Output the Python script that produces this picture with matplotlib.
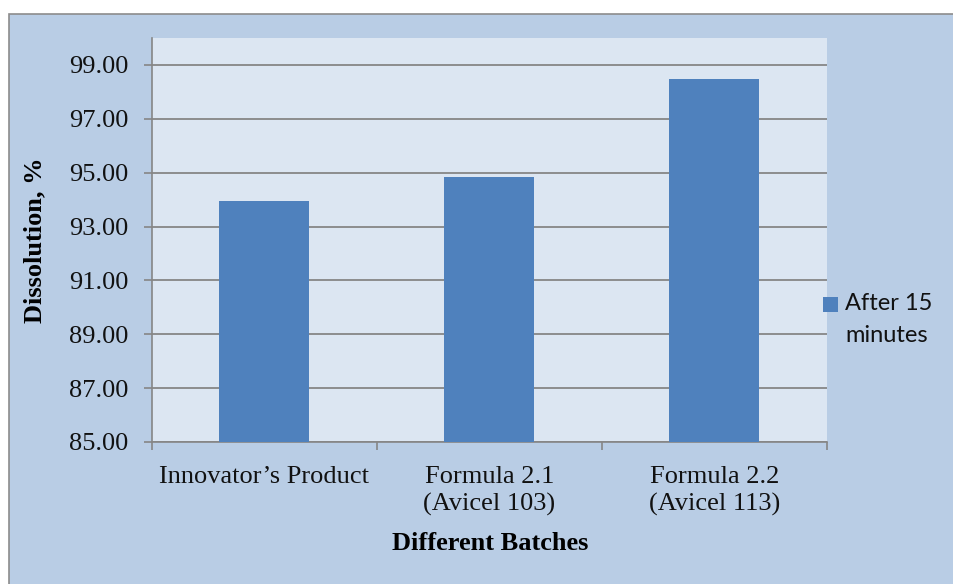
import matplotlib
matplotlib.use("Agg")
import matplotlib.pyplot as plt
from matplotlib.patches import Rectangle

# data
batches = ["Innovator\u2019s Product", "Formula 2.1\n(Avicel 103)", "Formula 2.2\n(Avicel 113)"]
dissolution = [93.96, 94.85, 98.48]
series_name = "After 15\nminutes"
y_ticks = [85, 87, 89, 91, 93, 95, 97, 99]

BAR = "#4F81BD"
PLOT_BG = "#DCE6F2"
CHART_BG = "#B9CDE5"
GRID = "#868686"
BORDER = "#8C8C8C"

W, H = 954, 584
fig = plt.figure(figsize=(W / 100, H / 100), dpi=100)
fig.patch.set_facecolor("white")

# chart area box (Excel style)
fig.patches.append(Rectangle((9 / W, -0.1), 1.2, (H - 14) / H + 0.1,
                             transform=fig.transFigure, facecolor=CHART_BG,
                             edgecolor=BORDER, lw=1.2, zorder=-10))

ax = fig.add_axes([152 / W, (H - 442) / H, (827 - 152) / W, (442 - 38) / H])
ax.set_facecolor(PLOT_BG)

x = range(len(batches))
ax.bar(x, dissolution, width=0.4, bottom=0, color=BAR, zorder=3)

ax.set_ylim(85, 100)
ax.set_xlim(-0.5, len(batches) - 0.5)
ax.set_yticks(y_ticks)
ax.set_yticklabels([f"{v:.2f}" for v in y_ticks])
ax.yaxis.grid(True, color=GRID, lw=1.3, zorder=1)
ax.set_axisbelow(True)

ax.set_xticks(list(x))
ax.set_xticklabels(batches, linespacing=1.3)
ax.set_xticks([i - 0.5 for i in range(len(batches) + 1)], minor=True)
ax.tick_params(axis="x", which="major", length=0, pad=17)
ax.tick_params(axis="x", which="minor", length=6, width=1.2, color=GRID)
ax.tick_params(axis="y", length=6, width=1.2, color=GRID, pad=11)

for lab in ax.get_xticklabels() + ax.get_yticklabels():
    lab.set_fontfamily("Liberation Serif")
    lab.set_fontsize(19)
    lab.set_color("#111111")

for side in ["top", "right"]:
    ax.spines[side].set_visible(False)
for side in ["left", "bottom"]:
    ax.spines[side].set_color(GRID)
    ax.spines[side].set_linewidth(1.2)

ax.set_ylabel("Dissolution, %", fontfamily="Liberation Serif", fontsize=19,
              fontweight="bold")
ax.yaxis.set_label_coords(-106 / (827 - 152), 0.5)
fig.text(490 / W, 1 - 544 / H, "Different Batches", fontfamily="Liberation Serif",
         fontsize=19, fontweight="bold", ha="center", va="center")

# legend (marker aligned with first line, like Excel)
fig.patches.append(Rectangle((823 / W, 1 - 312 / H), 15 / W, 15 / H,
                             transform=fig.transFigure, facecolor=BAR,
                             edgecolor="none", zorder=3))
fig.text(845 / W, 1 - 293 / H, series_name, fontfamily="Lato", fontsize=17,
         ha="left", va="top", linespacing=1.65, color="#111111")

fig.savefig("out.png", dpi=100, facecolor=fig.get_facecolor())
